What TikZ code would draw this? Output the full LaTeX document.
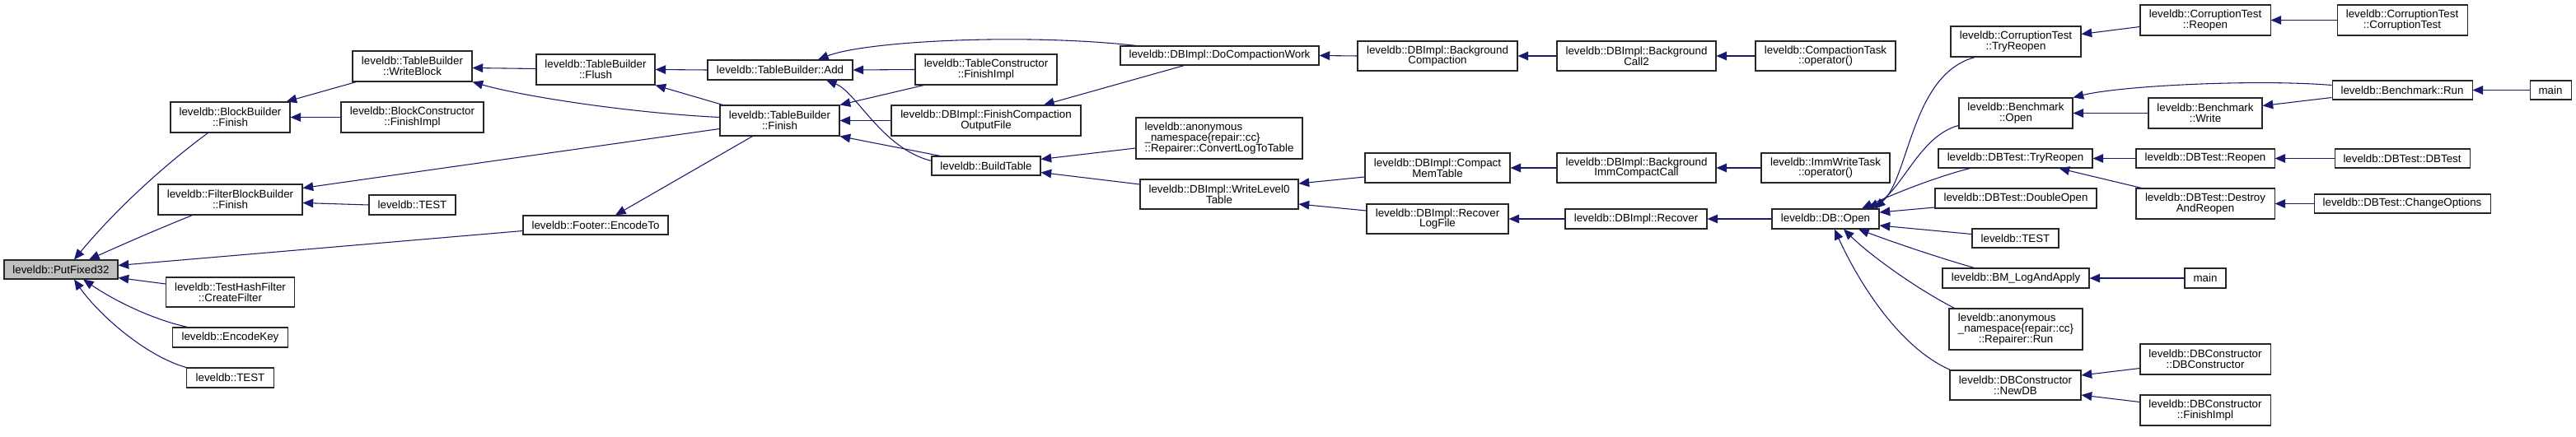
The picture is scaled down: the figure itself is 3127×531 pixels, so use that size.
\documentclass[tikz,border=0pt]{standalone}
\usepackage{fontspec}
\setmainfont{Liberation Sans}
\usetikzlibrary{arrows.meta,calc}
\definecolor{edgec}{RGB}{25,25,112}
\definecolor{rootfill}{RGB}{191,191,191}
\tikzset{
  fn/.style={draw=black!85, line width=0.8pt, fill=white, inner sep=0pt, align=center,
    font=\fontsize{10pt}{9.6pt}\selectfont},
  e/.style={draw=edgec, line width=0.8pt, {Triangle[length=9.5pt,width=8pt]}-},
}
\newcommand\bx[7][]{\node[fn, minimum width=#5*0.75pt, minimum height=#6*0.75pt, #1] (#2) at (#3,#4) {#7};}
\begin{document}
\begin{tikzpicture}[x=0.75pt,y=-0.75pt]
\useasboundingbox[fill=white] (0,0) rectangle (3127,531);
% nodes
\bx[fill=rootfill]{P}{74}{327.5}{138}{23}{leveldb::PutFixed32}
\bx{bbf}{279.5}{142.5}{145}{37}{leveldb::BlockBuilder\\::Finish}
\bx{fbbf}{279.5}{242.5}{175}{37}{leveldb::FilterBlockBuilder\\::Finish}
\bx{thf}{279.5}{355}{156}{36}{leveldb::TestHashFilter\\::CreateFilter}
\bx{ek}{279.5}{410}{140}{24}{leveldb::EncodeKey}
\bx{tA}{279.5}{459}{106}{24}{leveldb::TEST}
\bx{wb}{500.5}{80.5}{145}{37}{leveldb::TableBuilder\\::WriteBlock}
\bx{bcf}{500.5}{142.5}{173}{37}{leveldb::BlockConstructor\\::FinishImpl}
\bx{tB}{500.5}{249}{105}{24}{leveldb::TEST}
\bx{fl}{723}{84.5}{144}{37}{leveldb::TableBuilder\\::Flush}
\bx{fe}{723}{273.5}{176}{23}{leveldb::Footer::EncodeTo}
\bx{tba}{947}{85}{176}{24}{leveldb::TableBuilder::Add}
\bx{tbf}{946.5}{146.5}{145}{37}{leveldb::TableBuilder\\::Finish}
\bx{tcf}{1197}{84.5}{172}{37}{leveldb::TableConstructor\\::FinishImpl}
\bx{fcof}{1197}{146.5}{230}{37}{leveldb::DBImpl::FinishCompaction\\OutputFile}
\bx{bt}{1197}{201.5}{132}{23}{leveldb::BuildTable}
\bx{dcw}{1480.5}{67.5}{241}{23}{leveldb::DBImpl::DoCompactionWork}
\bx[align=left,font=\fontsize{10pt}{10pt}\selectfont]{clt}{1480}{168}{202}{50}{leveldb::anonymous\\\_namespace\{repair::cc\}\\::Repairer::ConvertLogToTable}
\bx{wl}{1480}{236}{192}{36}{leveldb::DBImpl::WriteLevel0\\Table}
\bx{bc}{1745}{68}{194}{36}{leveldb::DBImpl::Background\\Compaction}
\bx{cmt}{1745}{204}{176}{36}{leveldb::DBImpl::Compact\\MemTable}
\bx{rlf}{1745}{266}{172}{36}{leveldb::DBImpl::Recover\\LogFile}
\bx{bcb}{1986.5}{68}{193}{36}{leveldb::DBImpl::Background\\Call2}
\bx{bicc}{1986.5}{204}{193}{36}{leveldb::DBImpl::Background\\ImmCompactCall}
\bx{rec}{1986}{266}{172}{24}{leveldb::DBImpl::Recover}
\bx{ct}{2216}{68}{170}{36}{leveldb::CompactionTask\\::operator()}
\bx{iwt}{2216}{204}{156}{36}{leveldb::ImmWriteTask\\::operator()}
\bx{dbo}{2216}{266}{130}{24}{leveldb::DB::Open}
\bx{cttr}{2447}{50.5}{158}{37}{leveldb::CorruptionTest\\::TryReopen}
\bx{bo}{2447}{137.5}{138}{37}{leveldb::Benchmark\\::Open}
\bx{dtr}{2446.5}{192.5}{187}{23}{leveldb::DBTest::TryReopen}
\bx{ddo}{2447}{241}{196}{24}{leveldb::DBTest::DoubleOpen}
\bx{tC}{2446.5}{289.5}{105}{23}{leveldb::TEST}
\bx{bml}{2447}{338}{178}{24}{leveldb::BM\_LogAndApply}
\bx[font=\fontsize{10pt}{10pt}\selectfont]{rr}{2447}{400}{162}{50}{\rlap{leveldb::anonymous}\phantom{\_namespace\{repair::cc\}}\\\_namespace\{repair::cc\}\\::Repairer::Run}
\bx{ndb}{2446.5}{468}{159}{36}{leveldb::DBConstructor\\::NewDB}
\bx{ctr}{2677}{24.5}{158}{37}{leveldb::CorruptionTest\\::Reopen}
\bx{bw}{2677}{137.5}{138}{37}{leveldb::Benchmark\\::Write}
\bx{dr}{2677}{192.5}{168}{23}{leveldb::DBTest::Reopen}
\bx{dar}{2677}{247.5}{168}{37}{leveldb::DBTest::Destroy\\AndReopen}
\bx{mA}{2677}{338}{50}{24}{main}
\bx{dcc}{2677}{436.5}{158}{37}{leveldb::DBConstructor\\::DBConstructor}
\bx{dcfi}{2677}{498.5}{158}{37}{leveldb::DBConstructor\\::FinishImpl}
\bx{ctc}{2916}{24.5}{158}{37}{leveldb::CorruptionTest\\::CorruptionTest}
\bx{br}{2916}{109.5}{170}{23}{leveldb::Benchmark::Run}
\bx{dtd}{2916}{192.5}{164}{23}{leveldb::DBTest::DBTest}
\bx{dco}{2916}{247.5}{214}{23}{leveldb::DBTest::ChangeOptions}
\bx{mB}{3096}{109.5}{50}{23}{main}
% edges into PutFixed32
\draw[e] ($(P.north)+(16,0)$) .. controls (140,255) and (200,200) .. ($(bbf.south)+(-27,0)$);
\draw[e] ($(P.north)+(34,0)$) .. controls (160,292) and (200,275) .. ($(fbbf.south)+(-46,0)$);
\draw[e] ($(P.east)+(0,-5)$) -- ($(fe.west)+(0,7)$);
\draw[e] ($(P.east)+(0,10)$) -- ($(thf.west)+(0,-10)$);
\draw[e] ($(P.south)+(27,0)$) .. controls (140,366) and (185,388) .. ($(ek.north)+(-52,0)$);
\draw[e] ($(P.south)+(16,0)$) .. controls (118,380) and (175,432) .. (tA.north west);
% column A callers
\draw[e] ($(bbf.north east)+(-5,0)$) -- ($(wb.south west)+(5,0)$);
\draw[e] (bbf.east) -- (bcf.west);
\draw[e] ($(fbbf.east)+(0,-14)$) -- ($(tbf.west)+(0,10)$);
\draw[e] ($(fbbf.east)+(0,4)$) -- (tB.west);
% column B callers
\draw[e] ($(wb.east)+(0,2)$) -- ($(fl.west)+(0,-1)$);
\draw[e] (wb.south east) .. controls (630,116) and (760,137) .. ($(tbf.west)+(0,-4)$);
% column C callers
\draw[e] ($(fe.north)+(24,0)$) -- ($(tbf.south)+(-33,0)$);
\draw[e] (fl.east) -- (tba.west);
\draw[e] (fl.south east) -- ($(tbf.north west)+(4,0)$);
% column D callers
\draw[e] (tba.east) -- (tcf.west);
\draw[e] ($(tba.north)+(46,0)$) .. controls (1050,50) and (1240,40) .. ($(dcw.north west)+(20,0)$);
\draw[e] ($(tba.south)+(56,0)$) .. controls (1040,112) and (1070,180) .. ($(bt.west)+(0,-6)$);
\draw[e] (tbf.north east) -- ($(tcf.south west)+(11,0)$);
\draw[e] (tbf.east) -- (fcof.west);
\draw[e] (tbf.south east) -- ($(bt.north west)+(11,0)$);
% column E callers
\draw[e] ($(fcof.north)+(70,0)$) -- ($(dcw.south)+(-43,0)$);
\draw[e] ($(bt.east)+(0,-8)$) -- ($(clt.west)+(0,12)$);
\draw[e] ($(bt.east)+(0,8)$) -- ($(wl.west)+(0,-12)$);
% column F callers
\draw[e] (dcw.east) -- (bc.west);
\draw[e] ($(wl.east)+(0,-13)$) -- ($(cmt.west)+(0,11)$);
\draw[e] ($(wl.east)+(0,12)$) -- ($(rlf.west)+(0,-10)$);
% column G/H callers
\draw[e] (bc.east) -- (bcb.west);
\draw[e] (cmt.east) -- (bicc.west);
\draw[e] (rlf.east) -- (rec.west);
\draw[e] (bcb.east) -- (ct.west);
\draw[e] (bicc.east) -- (iwt.west);
\draw[e] (rec.east) -- (dbo.west);
% callers of DB::Open
\draw[e] ($(dbo.north)+(60,0)$) .. controls (2318,215) and (2320,90) .. ($(cttr.south west)+(30,0)$);
\draw[e] ($(dbo.north)+(52,0)$) .. controls (2310,230) and (2330,165) .. ($(bo.west)+(0,15)$);
\draw[e] ($(dbo.north)+(44,0)$) .. controls (2300,235) and (2350,215) .. ($(dtr.south west)+(39,0)$);
\draw[e] ($(dbo.east)+(0,-8)$) -- ($(ddo.west)+(0,11)$);
\draw[e] ($(dbo.east)+(0,8)$) -- ($(tC.west)+(0,-5)$);
\draw[e] ($(dbo.south)+(40,0)$) .. controls (2300,295) and (2350,312) .. ($(bml.north west)+(39,0)$);
\draw[e] ($(dbo.south)+(22,0)$) .. controls (2270,310) and (2325,350) .. ($(rr.north west)+(7,0)$);
\draw[e] ($(dbo.south)+(11,0)$) .. controls (2250,330) and (2300,420) .. ($(ndb.north west)+(1,0)$);
% column J callers
\draw[e] ($(cttr.east)+(0,-9)$) -- ($(ctr.west)+(0,8)$);
\draw[e] (bo.north east) .. controls (2575,104) and (2740,96) .. ($(br.west)+(0,-6)$);
\draw[e] (bo.east) -- (bw.west);
\draw[e] (dtr.east) -- (dr.west);
\draw[e] ($(dtr.south)+(53,0)$) -- ($(dar.north west)+(7,0)$);
\draw[e] (bml.east) -- (mA.west);
\draw[e] ($(ndb.east)+(0,-12)$) -- ($(dcc.west)+(0,11)$);
\draw[e] ($(ndb.east)+(0,12)$) -- ($(dcfi.west)+(0,-10)$);
% column K callers
\draw[e] (ctr.east) -- (ctc.west);
\draw[e] ($(bw.east)+(0,-9)$) -- ($(br.west)+(0,9)$);
\draw[e] (dr.east) -- (dtd.west);
\draw[e] (dar.east) -- (dco.west);
\draw[e] (br.east) -- (mB.west);
\end{tikzpicture}
\end{document}
